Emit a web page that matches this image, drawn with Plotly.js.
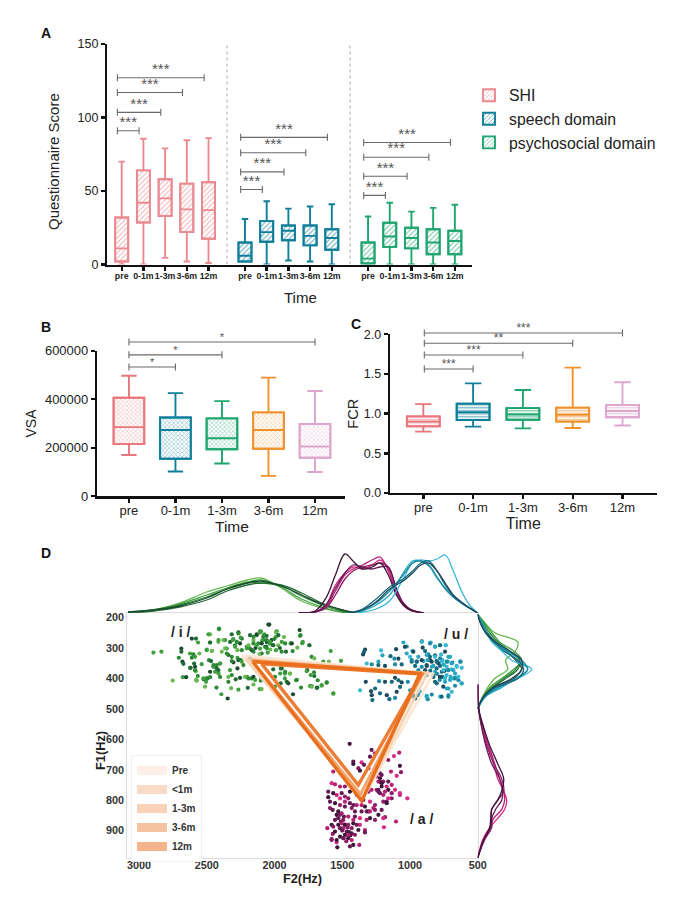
<!DOCTYPE html>
<html><head><meta charset="utf-8">
<script src="https://cdn.plot.ly/plotly-3.0.1.min.js"></script>
<style>html,body{margin:0;padding:0;background:#fff}</style>
</head><body><div id="chart" style="width:685px;height:906px"></div>
<script>
const times=['pre','0-1m','1-3m','3-6m','12m'];
// Panel A: questionnaire scores [pre,0-1m,1-3m,3-6m,12m]
const shiLow=[0,0,4.5,2,1], shiQ1=[2,28.6,33,22,17.5], shiMed=[11,42,45,37.5,37], shiQ3=[32,64,58,55,56], shiUp=[70,85.5,79,84.5,86];
const speechLow=[2,0,2.7,2,0], speechQ1=[2,15.5,16.5,13,10], speechMed=[6,22,23,19.5,18], speechQ3=[15,29.5,26.5,26.5,24], speechUp=[31,43,38,39.5,41];
const psychoLow=[0,0,0,0,0], psychoQ1=[0.7,12,11,7,7], psychoMed=[4,19,18,15,16], psychoQ3=[15,28.4,25,24,23], psychoUp=[32.7,42,36,38.5,40.6];
const shiSig=[91,103.5,117,127], speechSig=[51,63,76,86.5], psychoSig=[47,60,73,83];
const aGroupStart=[0,5.68,11.35];
// Panel B: VSA
const vsaLow=[170000,102000,135000,84000,100000], vsaQ1=[215000,155000,194000,196000,159000], vsaMed=[285000,273000,239000,273000,205000], vsaQ3=[406000,325000,321000,346000,298000], vsaUp=[497000,425000,392000,489000,434000];
const vsaSig=[533000,583000,636000], vsaSigEnd=[1,2,4], vsaStars=['*','*','*'];
// Panel C: FCR
const fcrLow=[0.773,0.836,0.815,0.82,0.85], fcrQ1=[0.84,0.92,0.924,0.90,0.954], fcrMed=[0.90,1.017,0.99,0.987,1.034], fcrQ3=[0.966,1.126,1.07,1.076,1.11], fcrUp=[1.12,1.382,1.298,1.58,1.395];
const fcrSig=[1.563,1.74,1.887,2.017], fcrSigEnd=[1,2,3,4], fcrStars=['***','***','**','***'];
// Panel D: vowel scatter, F2 / F1 in Hz, time index 0-4
const iF2=[2893,2834,2751,2687,2687,2706,2679,2672,2677,2652,2623,2598,2554,2610,2586,2593,2618,2586,2581,2537,2566,2574,2524,2495,2475,2505,2512,2428,2392,2345,2340,2320,2286,2254,2202,2170,2155,2109,2101,2266,2197,2500,2460,2483,2468,2451,2426,2401,2414,2438,2401,2389,2352,2340,2315,2303,2273,2249,2229,2273,2328,2340,2315,2475,2409,2475,2414,2365,2315,2266,2303,2291,2273,2241,2254,2205,2180,2155,2131,2101,2082,2057,2106,2155,2180,2610,2579,2564,2045,2038,2107,2058,1984,1989,1930,2021,2082,2070,2095,2033,1972,1989,1947,1915,1881,1866,1831,1814,1807,1795,1743,1585,1726,1706,1640,1598,1509,2009,1954,1923,1886,1996,1923,1898,2097,2095,1996,1954,1841,1804,1758,1708,1733,1706,1681,1615,1652,1684,1726,1738,1863,1566,2120,2090,2060,2030,2000,2140,2075,2015,1960,2110,2050,
2266,2249,2180,2155,2131,2106,2076,1988,1971,1946,1921,1872,1811,1791,1742,2057,2032,2008,2192,2155,2131,2094,2057,2204,2168,2241,2290,2364,2352,2327,2308,2278,2377,2413,2475,2487,2409,2463,2500,2450,2426,2413,2475,2500,2524,2578,2623,2586,2401,2315,2266,2241,2217,2192,2155,2143,1946,1921,1885,1958,1909,1835,1762,1725,1688,1651,1614,1565];
const iF1=[315,312,407,302,312,332,345,352,396,396,318,321,318,332,329,351,365,362,376,353,392,407,402,400,396,411,427,430,452,466,411,432,403,398,395,400,420,435,407,437,431,305,309,340,343,362,356,351,373,378,395,312,302,323,329,347,332,340,356,367,373,395,389,255,238,282,280,274,255,249,271,291,307,269,285,296,302,274,258,245,263,280,302,312,334,269,269,282,223,223,245,260,245,263,264,274,274,296,318,285,291,307,312,312,285,310,299,241,258,284,291,310,329,334,345,345,342,370,367,384,384,395,400,416,400,435,427,416,406,430,373,380,389,392,406,414,424,430,425,425,452,450,285,275,295,305,270,300,255,290,300,320,315,
252,266,258,263,255,249,260,249,258,280,285,285,260,280,291,274,280,291,291,285,291,285,301,301,307,307,296,301,318,280,274,280,274,274,282,255,236,310,307,356,367,384,378,400,400,405,365,373,351,343,340,345,395,400,395,405,367,378,384,384,411,405,376,427,431,422,413,449];
const iTime=[1,1,0,4,3,2,4,3,1,4,1,2,0,2,1,3,2,4,0,1,2,1,4,3,2,1,0,2,1,4,2,0,3,4,1,2,0,1,2,1,3,1,0,2,3,1,2,4,3,1,2,0,1,3,2,4,1,3,2,4,1,0,2,0,1,1,0,2,3,4,1,2,0,3,4,1,2,0,1,2,3,4,1,2,3,4,3,1,4,4,1,3,2,1,0,4,2,1,3,2,0,1,2,3,1,2,0,4,1,1,0,1,2,0,1,0,1,3,2,1,0,2,1,4,2,0,1,3,1,2,4,2,1,3,2,1,0,3,2,1,4,1,2,1,3,0,2,4,1,2,3,0,1,
2,1,3,2,4,1,2,0,3,1,2,4,2,1,3,2,1,3,0,2,1,4,2,1,3,2,1,0,2,3,1,2,0,1,3,1,2,0,1,2,3,1,4,2,1,0,3,2,1,2,3,1,0,2,4,1,3,2,0,1,3,2,1,0,3,1,2,1];
const uF2=[1048,1024,913,847,815,778,736,906,982,888,1102,1213,1331,1339,1346,1203,1144,1115,1085,1233,1319,1282,1233,1184,1110,1061,999,938,864,815,770,704,987,950,901,852,802,760,687,630,655,618,962,913,876,827,778,729,938,888,815,765,716,667,876,827,778,729,667,642,815,741,618,667,716,1110,1085,1061,1016,1134,1184,1228,1326,1073,1257,1287,1282,1368,1221,1171,1152,1110,1098,1277,999,975,925,876,839,778,716,962,869,790,750,720,800,760,690,745,700,780,680,850,840,870,
987,950,913,877,852,815,778,741,717,803,766,729,692,655,626,877,840,803,754,717,680,643,618,827,778,741,704,668,803,754,729,692,717,766,877,938,1037,1024,913,852,815,778,736,975];
const uF1=[282,295,278,282,295,291,291,299,310,310,304,308,305,313,321,324,327,335,335,345,351,354,356,359,354,354,329,329,321,324,321,329,345,345,343,340,343,340,348,345,359,365,359,362,359,359,359,362,373,373,378,378,373,384,389,395,395,389,398,406,411,411,417,424,433,398,406,413,411,411,411,409,411,428,433,442,455,439,449,455,468,464,444,471,439,457,444,457,453,460,455,466,468,350,355,345,385,395,370,375,395,405,400,375,345,340,
340,345,340,323,329,329,334,312,329,345,345,345,351,362,345,356,362,367,373,373,373,395,416,389,395,400,405,400,416,427,433,444,460,460,460,455,296,318,280,285,296,291,291,312];
const uTime=[1,2,4,0,1,2,0,4,1,3,4,0,4,3,4,1,3,2,4,1,0,2,3,4,2,3,0,1,2,3,0,1,3,2,1,4,3,0,2,1,0,0,3,2,4,1,3,0,2,4,1,3,0,1,2,3,4,0,1,2,3,1,0,2,1,4,3,4,2,3,4,2,4,3,3,4,4,0,3,4,3,2,4,3,1,2,0,1,2,0,1,3,2,4,1,0,2,3,0,4,1,2,0,3,4,1,
2,3,4,1,3,0,2,4,1,3,0,2,1,0,2,4,1,3,0,2,1,0,1,3,4,0,1,2,3,4,1,0,2,3,1,2,4,1,0,2,1,3,0,4];
const aF2=[1445,1283,1079,1118,1160,1418,1418,1566,1357,1339,1381,1369,1295,1258,1307,1074,1140,1066,1098,1209,1221,1233,1197,1160,1135,1172,1209,1246,1221,1197,1160,1110,1074,1019,1135,1172,1283,1307,1578,1553,1603,1603,1516,1480,1504,1516,1443,1455,1393,1344,1295,1258,1270,1209,1233,1184,1103,1192,1332,1357,1393,1430,1406,1369,1320,1295,1258,1369,1332,1332,1406,1374,1418,1443,1541,1536,1578,1570,1610,1578,1553,1590,1570,1529,1504,1529,1492,1529,1492,1467,1455,1467,1430,1516,1480,1455,1516,1553,1590,1480,1443,1320,1418,1500,1480,1460,1440,1510,1490,1470,1450,
1516,1541,1487,1504,1480,1455,1516,1480,1455,1492,1566,1553,1418,1393,1430,1381,1430,1221,1209,1233,1184,1160,1197,1172,1221,1246,1135,1074,1233,1566,1541,1480,1418,1357,1307,1258,1197,1406,1295,1541,1578];
const aF1=[615,635,644,655,668,673,681,706,676,684,695,703,657,646,695,687,706,708,720,717,728,739,739,739,750,755,755,766,777,783,766,766,783,794,794,805,766,772,744,748,772,790,755,755,777,794,772,794,783,799,805,816,826,832,848,856,870,889,821,837,816,826,854,859,865,859,865,881,898,906,914,947,947,952,939,955,928,911,892,881,865,826,832,837,843,859,865,881,892,903,925,914,909,920,821,854,816,810,805,805,810,837,876,900,880,890,915,870,925,935,905,
848,848,854,876,881,881,892,914,914,925,887,903,865,881,892,898,931,739,744,766,772,794,805,810,712,722,777,777,772,777,783,788,816,816,837,832,859,837,837,931,931];
const aTime=[4,3,1,0,2,3,4,1,0,3,2,4,3,1,2,4,1,2,0,3,4,1,2,3,1,0,4,2,3,1,4,0,1,0,2,3,1,2,0,1,3,4,1,2,3,0,4,2,1,3,0,2,1,3,4,2,1,0,4,3,1,2,3,0,1,4,2,0,1,3,2,1,4,3,0,4,3,2,1,4,3,2,3,4,1,3,2,4,1,3,4,2,3,4,3,1,2,4,3,1,3,2,4,3,1,2,4,3,1,2,4,
2,4,3,1,4,2,3,4,1,3,2,4,1,3,2,4,1,2,4,3,1,0,2,4,3,1,2,0,3,4,1,2,3,1,4,2,0,3,1,4,2];
// Vowel-space triangles [pre,<1m,1-3m,3-6m,12m], vertices i,u,a,i
const triNames=['Pre','<1m','1-3m','3-6m','12m'];
const triF2=[[2240,830,1340,2240],[2210,870,1350,2210],[2170,905,1365,2170],[2095,915,1381,2095],[2160,925,1356,2160]];
const triF1=[[325,385,790,325],[335,382,795,335],[340,385,780,340],[352,386,750,352],[345,383,803,345]];
// Marginal densities along F2 (top)
const topIGrid=[3080,2900,2700,2500,2350,2200,2100,1950,1800,1650,1500,1400];
const topI=[[1,3,10,21,27,33,35,25,12,5,1,0],[1,3,9,18,25,31,33,26,14,6,1,0],[1,2,8,16,24,30,30,27,17,8,2,0],[0.5,2,6,13,22,28,30,28,20,10,3,0],[1,3,7,15,24,30,32,27,18,9,3,0]];
const topAGrid=[1820,1700,1620,1550,1480,1420,1350,1280,1220,1160,1100,1050,1000,900];
const topA=[[0,1,8,28,40,46,44,48,53,44,20,8,3,0],[0,1,6,22,38,44,48,53,56,42,20,9,3,0],[0,1,5,18,34,42,46,48,50,46,24,10,4,0],[0,1,8,25,40,48,46,44,46,46,24,10,4,0],[0,2,15,38,59,52,44,46,50,38,18,8,3,0]];
const topUGrid=[1450,1350,1250,1150,1050,980,920,860,800,740,680,620,560,500];
const topU=[[0,1,4,12,34,50,53,52,54,58,42,22,8,0],[0,2,8,18,40,52,52,47,35,25,16,10,5,0],[0,3,10,22,38,50,52,48,36,24,16,10,5,0],[0,4,14,26,34,42,50,52,42,28,17,10,5,0],[0,3,11,24,32,40,48,50,42,30,18,11,5,0]];
// Marginal densities along F1 (right)
const sideGrid=[190,220,250,280,310,340,370,400,430,460,500];
const sideI=[[0,8,17,40,38,28,30,17,10,5,0],[0,7,14,22,36,44,36,24,12,5,0],[0,6,12,20,32,42,38,26,14,6,0],[0,5,10,18,30,42,40,28,15,6,0],[0,4,9,17,28,38,44,34,16,6,0]];
const sideU=[[0,5,9,14,24,34,54,40,22,7,0],[0,4,8,16,28,40,50,38,24,8,0],[0,4,9,18,30,44,50,40,20,7,0],[0,3,8,16,26,40,46,40,18,6,0],[0,3,8,18,32,44,44,36,16,6,0]];
const sideAGrid=[420,500,560,620,680,730,770,800,830,860,890,930,990];
const sideA=[[0,1,5,10,16,20,26,29,27,20,12,5,0],[0,1,5,11,17,22,26,27,24,16,12,6,0],[0,1,4,9,16,24,26,20,14,14,14,7,0],[0,1,4,8,14,22,25,24,18,14,13,6,0],[0,1,6,12,20,26,24,20,14,13,12,6,0]];

const iCols=['#66b84f','#3f9f3f','#2c8a34','#1f6b35','#1d4a30'];
const uCols=['#38b8d2','#26a5bf','#1c8ba3','#17697e','#1d4a5c'];
const aCols=['#d92a86','#b82075','#8f1c66','#661a55','#3c1739'];
const triCols=['rgba(251,228,210,0.9)','rgba(248,208,176,0.9)','#f3a46c','#ec7d34','#e96f1e'];
const legCols=['#fbeee6','#fadcc6','#f9d3b9','#f6c3a1','#f3b48c'];

const PINK='#ea8a90',TEAL='#0f7f99',GREEN='#1fa56e',ORANGE='#f0912c',LILAC='#dea6cc',RED='#e9767c';
const W=685,H=906;
const dx=(a,b)=>[a/W,b/W], dy=(top,bot)=>[1-bot/H,1-top/H];
const FONT='Liberation Sans';
const traces=[];

function boxSet(xs,low,q1,med,q3,up,color,opt){
  const xa=opt.xa,ya=opt.ya;
  traces.push({type:'bar',x:xs,y:q3.map((v,k)=>v-q1[k]),base:q1,width:opt.w,xaxis:xa,yaxis:ya,name:opt.name||'',showlegend:!!opt.name,hoverinfo:'skip',
    marker:{color:'#fff',line:{color:color,width:opt.lw},pattern:{shape:opt.shape,size:opt.psize,solidity:opt.sol,fgcolor:color,fgopacity:opt.op,bgcolor:'#fff'}}});
  traces.push({type:'box',x:xs,q1:q1,median:med,q3:q3,lowerfence:low,upperfence:up,width:opt.w,whiskerwidth:opt.cap,xaxis:xa,yaxis:ya,showlegend:false,boxpoints:false,hoverinfo:'skip',
    fillcolor:'rgba(0,0,0,0)',line:{color:color,width:opt.lw}});
}
function sig(x0,ends,levels,stars,xa,ya,fs,drop){
  const X=[],Y=[],TX=[],TY=[];
  ends.forEach((e,k)=>{X.push(x0,e,null);Y.push(levels[k],levels[k],null);TX.push((x0+e)/2);TY.push(levels[k]-drop);});
  traces.push({type:'scatter',mode:'lines+markers',x:X,y:Y,xaxis:xa,yaxis:ya,showlegend:false,hoverinfo:'skip',
    line:{color:'#6a6a6a',width:1.1},marker:{symbol:'line-ns',size:5,color:'#6a6a6a',line:{color:'#6a6a6a',width:1.1}}});
  traces.push({type:'scatter',mode:'text',x:TX,y:TY,text:stars,textposition:'top center',xaxis:xa,yaxis:ya,showlegend:false,hoverinfo:'skip',
    textfont:{family:FONT,size:fs,color:'#555'}});
}
// Panel A
const aData=[[shiLow,shiQ1,shiMed,shiQ3,shiUp,PINK,'SHI',shiSig],[speechLow,speechQ1,speechMed,speechQ3,speechUp,TEAL,'speech domain',speechSig],[psychoLow,psychoQ1,psychoMed,psychoQ3,psychoUp,GREEN,'psychosocial domain',psychoSig]];
const aTicks=[],aLabels=[];
aData.forEach((d,g)=>{
  const xs=times.map((t,k)=>aGroupStart[g]+k);
  xs.forEach((v,k)=>{aTicks.push(v);aLabels.push(times[k]);});
  boxSet(xs,d[0],d[1],d[2],d[3],d[4],d[5],{xa:'x',ya:'y',w:0.6,cap:0.5,lw:1.9,shape:'/',psize:3.6,sol:0.28,op:0.7,name:d[6]});
});
aData.forEach((d,g)=>{
  const s=aGroupStart[g]-0.2;
  sig(s,[s+1,s+2,s+3,s+4],d[7],['***','***','***','***'],'x','y',15,0);
});
// Panel B
const bc=[RED,TEAL,GREEN,ORANGE,LILAC];
times.forEach((t,k)=>boxSet([k],[vsaLow[k]],[vsaQ1[k]],[vsaMed[k]],[vsaQ3[k]],[vsaUp[k]],bc[k],{xa:'x2',ya:'y2',w:0.66,cap:0.5,lw:1.9,shape:'x',psize:3,sol:0.35,op:0.55}));
sig(0,vsaSigEnd,vsaSig,vsaStars,'x2','y6',11,8000);
// Panel C
times.forEach((t,k)=>boxSet([k],[fcrLow[k]],[fcrQ1[k]],[fcrMed[k]],[fcrQ3[k]],[fcrUp[k]],bc[k],{xa:'x3',ya:'y3',w:0.66,cap:0.5,lw:1.9,shape:'-',psize:3,sol:0.45,op:0.6}));
sig(0.02,fcrSigEnd,fcrSig,fcrStars,'x3','y7',12,0.02);
// Panel D
[[iF2,iF1,iTime,iCols],[uF2,uF1,uTime,uCols],[aF2,aF1,aTime,aCols]].forEach(v=>{
  traces.push({type:'scatter',mode:'markers',x:v[0],y:v[1],xaxis:'x4',yaxis:'y4',showlegend:false,hoverinfo:'skip',
    marker:{size:4.2,color:v[0].map((_,k)=>v[3][v[2][k]===undefined?2:v[2][k]])}});
});
triNames.forEach((n,k)=>{
  traces.push({type:'scatter',mode:'lines',x:triF2[k],y:triF1[k],xaxis:'x4',yaxis:'y4',showlegend:false,hoverinfo:'skip',line:{color:triCols[k],width:k>2?3.4:2.8}});
});
triNames.forEach((n,k)=>{
  traces.push({type:'scatter',mode:'lines',x:[null],y:[null],xaxis:'x4',yaxis:'y4',name:n,legend:'legend2',showlegend:true,line:{color:legCols[k],width:9}});
});
[[topIGrid,topI,iCols],[topAGrid,topA,aCols],[topUGrid,topU,uCols]].forEach(v=>{
  v[1].forEach((d,k)=>traces.push({type:'scatter',mode:'lines',x:v[0],y:d,xaxis:'x4',yaxis:'y5',cliponaxis:false,showlegend:false,hoverinfo:'skip',line:{color:v[2][k],width:1.3,shape:'spline',smoothing:1}}));
});
[[sideGrid,sideI,iCols],[sideGrid,sideU,uCols],[sideAGrid,sideA,aCols]].forEach(v=>{
  v[1].forEach((d,k)=>traces.push({type:'scatter',mode:'lines',x:d,y:v[0],xaxis:'x5',yaxis:'y4',cliponaxis:false,showlegend:false,hoverinfo:'skip',line:{color:v[2][k],width:1.3,shape:'spline',smoothing:1}}));
});

const blackAxis={showline:true,linecolor:'#111',linewidth:2.4,ticks:'outside',ticklen:4,tickwidth:2.4,tickcolor:'#111',showgrid:false,zeroline:false,automargin:false,fixedrange:true};
const tf={family:FONT,size:12.5,color:'#222'};
const xtf={family:FONT,size:13,color:'#222'};
const note=(t,x,y,o)=>Object.assign({text:t,x:x/W,y:1-y/H,xref:'paper',yref:'paper',showarrow:false,xanchor:'center',yanchor:'middle',font:{family:FONT,size:15,color:'#222'}},o||{});
const bold13={font:{family:FONT,size:14,color:'#111',weight:700}};
const vowelFont={font:{family:FONT,size:14,color:'#222',weight:700}};
const layout={
  width:W,height:H,margin:{l:0,r:0,t:0,b:0},paper_bgcolor:'#fff',plot_bgcolor:'rgba(0,0,0,0)',barmode:'overlay',boxmode:'overlay',font:{family:FONT,color:'#222'},
  xaxis:Object.assign({},blackAxis,{domain:dx(107.3,472),range:[-0.664,16.14],tickvals:aTicks,ticktext:aLabels,tickangle:0,ticklabelstandoff:-2,tickfont:{family:FONT,size:8.8,color:'#222',weight:700},anchor:'y'}),
  yaxis:Object.assign({},blackAxis,{domain:dy(44,264.5),range:[0,150],tickvals:[0,50,100,150],tickfont:tf,anchor:'x'}),
  xaxis2:Object.assign({},blackAxis,{domain:dx(97.3,345),range:[-0.68,4.645],tickvals:[0,1,2,3,4],ticktext:times,tickangle:0,ticklabelstandoff:-3,tickfont:xtf,anchor:'y2'}),
  yaxis2:Object.assign({},blackAxis,{domain:dy(350.7,496.3),range:[0,600000],tickvals:[0,200000,400000,600000],tickformat:'d',tickfont:{family:FONT,size:13,color:'#222'},anchor:'x2',title:{text:'VSA',standoff:5,font:{family:FONT,size:14,color:'#222'}}}),
  yaxis6:{domain:dy(330,496.3),range:[0,685302],visible:false,anchor:'x2',fixedrange:true},
  xaxis3:Object.assign({},blackAxis,{domain:dx(390,656.7),range:[-0.669,4.687],tickvals:[0,1,2,3,4],ticktext:times,tickangle:0,ticklabelstandoff:-3,tickfont:xtf,anchor:'y3',title:{text:'Time',standoff:3,font:{family:FONT,size:16,color:'#222'}}}),
  yaxis3:Object.assign({},blackAxis,{domain:dy(334.3,493),range:[0,2],tickvals:[0,0.5,1,1.5,2],tickformat:'.1f',tickfont:tf,anchor:'x3',title:{text:'FCR',standoff:2,font:{family:FONT,size:14.6,color:'#222'}}}),
  yaxis7:{domain:dy(320,493),range:[0,2.1802],visible:false,anchor:'x3',fixedrange:true},
  xaxis4:{domain:dx(127.3,477.7),range:[3086,500],tickvals:[3000,2500,2000,1500,1000,500],ticklabelstandoff:-3,showgrid:false,zeroline:false,showline:true,mirror:true,linecolor:'#dcdcdc',linewidth:1,ticks:'',tickfont:{family:FONT,size:10.8,color:'#333',weight:700},anchor:'y4',automargin:false,fixedrange:true,
    title:{text:'F2(Hz)',standoff:1,font:{family:FONT,size:12.8,color:'#222',weight:700}}},
  yaxis4:{domain:dy(613.3,857.7),range:[989,186],tickvals:[200,300,400,500,600,700,800,900],showgrid:false,zeroline:false,showline:true,mirror:true,linecolor:'#dcdcdc',linewidth:1,ticks:'',tickfont:{family:FONT,size:10.8,color:'#333',weight:700},anchor:'x4',automargin:false,fixedrange:true},
  yaxis5:{domain:dy(545,613),range:[0,68],visible:false,anchor:'x4',fixedrange:true},
  xaxis5:{domain:dx(477.7,680),range:[0,202.3],visible:false,anchor:'y4',fixedrange:true},
  legend:{x:469/W,y:1-78.5/H,xanchor:'left',yanchor:'top',bgcolor:'rgba(0,0,0,0)',font:{family:FONT,size:15.8,color:'#222'},traceorder:'normal',itemclick:false,itemdoubleclick:false},
  legend2:{x:131/W,y:1-755/H,xanchor:'left',yanchor:'top',bgcolor:'#fff',bordercolor:'#f0f0f0',borderwidth:1,font:{family:FONT,size:10,color:'#333',weight:700},traceorder:'normal',itemclick:false,itemdoubleclick:false},
  shapes:[4.85,10.52].map(v=>({type:'line',xref:'x',yref:'y',x0:v,x1:v,y0:0,y1:150,line:{color:'#aaa',width:1,dash:'dot'}})),
  annotations:[
    note('A',46,33,bold13),note('B',46,327,bold13),note('C',356,324,bold13),note('D',46,553,bold13),
    note('Questionnaire Score',53,162,{textangle:-90}),note('Time',300,297),note('Time',232,526,{font:{family:FONT,size:15.5,color:'#222'}}),
    note('F1(Hz)',100,750,{textangle:-90,font:{family:FONT,size:12.8,color:'#222',weight:700}}),
    Object.assign({text:'/ i /',x:2690,y:248,xref:'x4',yref:'y4',showarrow:false},vowelFont),
    Object.assign({text:'/ u /',x:660,y:254,xref:'x4',yref:'y4',showarrow:false},vowelFont),
    Object.assign({text:'/ a /',x:918,y:862,xref:'x4',yref:'y4',showarrow:false},vowelFont)
  ]
};
Plotly.newPlot('chart',traces,layout,{displayModeBar:false,staticPlot:true});
</script></body></html>
